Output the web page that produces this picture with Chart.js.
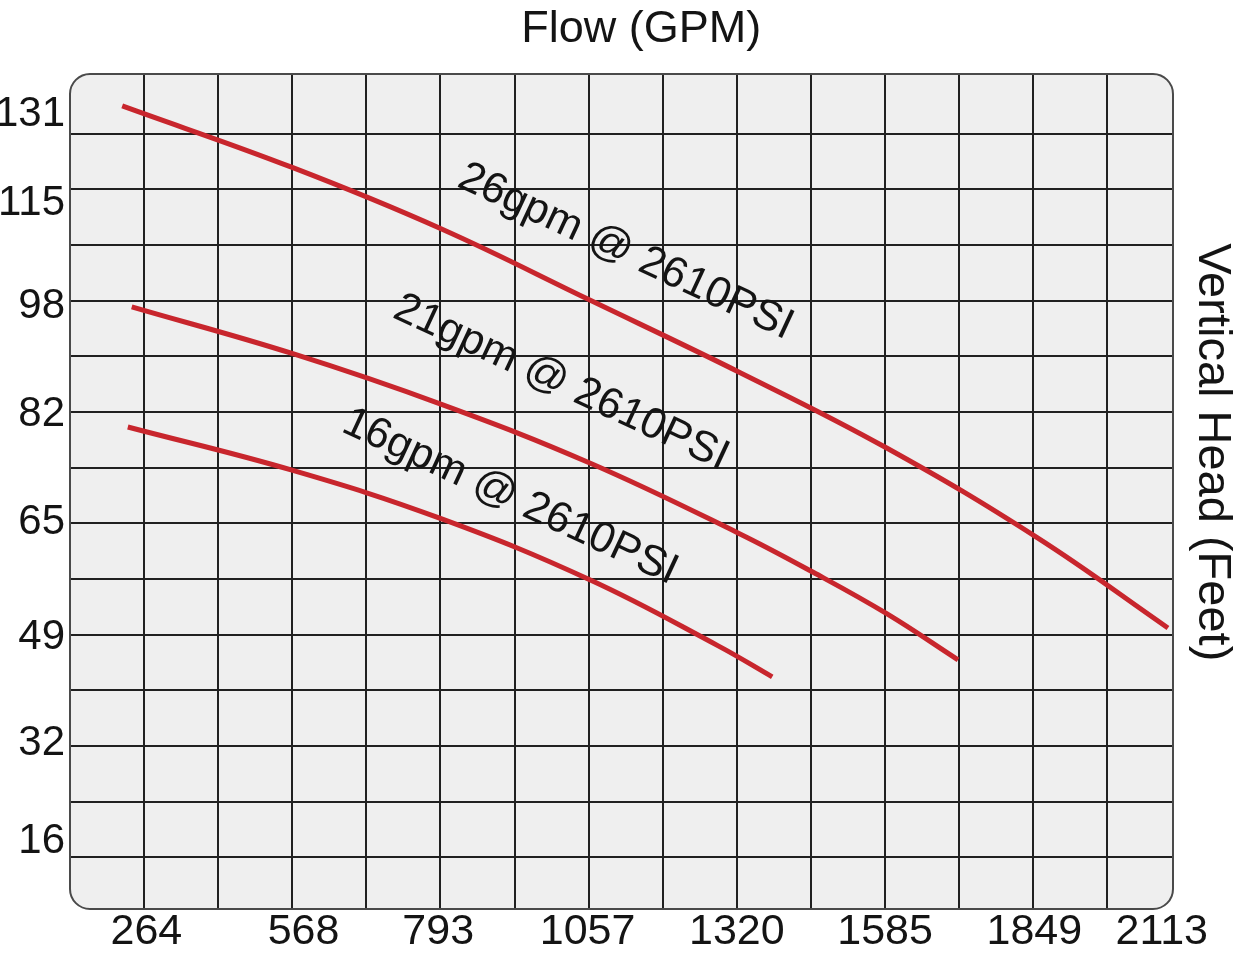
<!DOCTYPE html>
<html>
<head>
<meta charset="utf-8">
<title>Flow vs Vertical Head</title>
<script src="https://cdn.jsdelivr.net/npm/chart.js@4.4.1/dist/chart.umd.min.js"></script>
<style>
  body { margin: 0; background: #ffffff; }
  canvas { display: block; }
</style>
</head>
<body>
<canvas id="pump-chart" width="1245" height="955"></canvas>
<script>
//Tick labels as printed on the chart, and where each one sits on its axis
const flowTickLabels = ['264', '568', '793', '1057', '1320', '1585', '1849', '2113'];
const flowTickAt = [268, 548, 788, 1054, 1320, 1584, 1850, 2077];
const headTickLabels = ['131', '115', '98', '82', '65', '49', '32', '16'];
const headTickAt = [125.6, 112.6, 97.4, 81.4, 65.5, 48.6, 33.0, 18.5];

//Spacing of the grid paper (GPM and feet)
const flowGridStep = 132;
const headGridStep = 8.2;
const headGridTop = 131;

//Curve data: flow (GPM) and vertical head (feet)
const flow26 = [225, 529, 793, 1058, 1326, 1587, 1855, 2088];
const head26 = [126.9, 117.8, 108.8, 98.3, 87.6, 76.5, 63.3, 50.0];
const flow21 = [242, 529, 795, 1058, 1322, 1456, 1587, 1714];
const head21 = [97.3, 90.4, 82.9, 74.3, 64.0, 58.2, 52.1, 45.3];
const flow16 = [235, 529, 793, 1058, 1286, 1383];
const head16 = [79.6, 73.2, 66.1, 57.1, 47.4, 42.8];

//Curve names written along each curve
const curveNames = ['26gpm @ 2610PSI', '21gpm @ 2610PSI', '16gpm @ 2610PSI'];
const curveNameFlow = [1122, 1007, 916];
const curveNameHead = [105.4, 86.1, 69.3];

const fontFamily = "'Liberation Sans', Arial, Helvetica, sans-serif";
const curveColor = '#c8262d';

function toPoints(flows, heads){
    return flows.map((f, i) => ({x: f, y: heads[i]}));
}

//Grid lines get their own ticks (no text), labels get their own ticks (no line)
function flowTicks(scale){
    const ticks = [];
    for(let v = flowGridStep * 2; v < scale.max; v += flowGridStep){
        ticks.push({value: v});
    }
    flowTickLabels.forEach((t, i) => ticks.push({value: flowTickAt[i], text: t}));
    scale.ticks = ticks;
}

function headTicks(scale){
    const ticks = [];
    for(let v = headGridTop - headGridStep; v > scale.min + 1; v -= headGridStep){
        ticks.push({value: v});
    }
    headTickLabels.forEach((t, i) => ticks.push({value: headTickAt[i], text: t}));
    scale.ticks = ticks;
}

const gridColor = (ctx) => (ctx.tick && ctx.tick.text) ? 'rgba(0,0,0,0)' : '#202020';
const tickText = (value, index, ticks) => ticks[index].text || '';

//Rounded grey panel behind the grid, and its outline on top of the grid
const panelPlugin = {
    id: 'panel',
    beforeDraw(chart){
        const {ctx, chartArea: a} = chart;
        ctx.save();
        ctx.fillStyle = '#efefef';
        ctx.beginPath();
        ctx.roundRect(a.left, a.top, a.width, a.height, 20);
        ctx.fill();
        ctx.restore();
    },
    beforeDatasetsDraw(chart){
        const {ctx, chartArea: a} = chart;
        ctx.save();
        ctx.strokeStyle = '#4a4a4a';
        ctx.lineWidth = 2;
        ctx.beginPath();
        ctx.roundRect(a.left, a.top, a.width, a.height, 20);
        ctx.stroke();
        ctx.restore();
    }
};

//Writes each curve's name at a slant next to it
const curveNamePlugin = {
    id: 'curveNames',
    afterDatasetsDraw(chart){
        const {ctx, scales} = chart;
        ctx.save();
        ctx.font = '43px ' + fontFamily;
        ctx.fillStyle = '#141414';
        ctx.textAlign = 'center';
        ctx.textBaseline = 'middle';
        for(let i = 0; i < curveNames.length; i++){
            ctx.save();
            ctx.translate(scales.x.getPixelForValue(curveNameFlow[i]), scales.y.getPixelForValue(curveNameHead[i]));
            ctx.rotate(25 * Math.PI / 180);
            ctx.fillText(curveNames[i], 0, 0);
            ctx.restore();
        }
        ctx.restore();
    }
};

function curveDataset(label, flows, heads){
    return {
        label: label,
        data: toPoints(flows, heads),
        borderColor: curveColor,
        borderWidth: 5,
        pointRadius: 0,
        fill: false,
        tension: 0.4
    };
}

const pumpChart = new Chart('pump-chart', {
    type: 'line',
    data: {
        datasets: [
            curveDataset(curveNames[0], flow26, head26),
            curveDataset(curveNames[1], flow21, head21),
            curveDataset(curveNames[2], flow16, head16)
        ]
    },
    options: {
        responsive: false,
        animation: false,
        devicePixelRatio: 1,
        layout: { padding: 0 },
        plugins: {
            legend: { display: false },
            tooltip: { enabled: false },
            title: {
                display: true,
                text: '   Flow (GPM)',
                color: '#141414',
                font: { family: fontFamily, size: 45, weight: 'normal' },
                padding: { top: 2.5, bottom: 17.5 }
            }
        },
        scales: {
            x: {
                type: 'linear',
                min: 132,
                max: 2097,
                afterBuildTicks: flowTicks,
                afterFit: (scale) => { scale.height = 46; },
                border: { display: false },
                grid: { color: gridColor, lineWidth: 2, drawTicks: false },
                ticks: {
                    autoSkip: false,
                    maxRotation: 0,
                    padding: 2,
                    color: '#141414',
                    font: { family: fontFamily, size: 43, lineHeight: 1 },
                    callback: tickText
                }
            },
            y: {
                type: 'linear',
                min: 8.6,
                max: 131.6,
                afterBuildTicks: headTicks,
                afterFit: (scale) => { scale.width = 70; },
                border: { display: false },
                grid: { color: gridColor, lineWidth: 2, drawTicks: false },
                ticks: {
                    autoSkip: false,
                    padding: 5,
                    color: '#141414',
                    font: { family: fontFamily, size: 42, lineHeight: 1 },
                    callback: tickText
                }
            },
            yRight: {
                type: 'linear',
                position: 'right',
                display: true,
                min: 8.6,
                max: 131.6,
                afterFit: (scale) => { scale.width = 72; },
                border: { display: false },
                grid: { display: false, drawTicks: false },
                ticks: { display: false },
                title: {
                    display: true,
                    text: 'Vertical Head (Feet)      ',
                    color: '#141414',
                    padding: 5,
                    font: { family: fontFamily, size: 47 }
                }
            }
        }
    },
    plugins: [panelPlugin, curveNamePlugin]
});
</script>
</body>
</html>
